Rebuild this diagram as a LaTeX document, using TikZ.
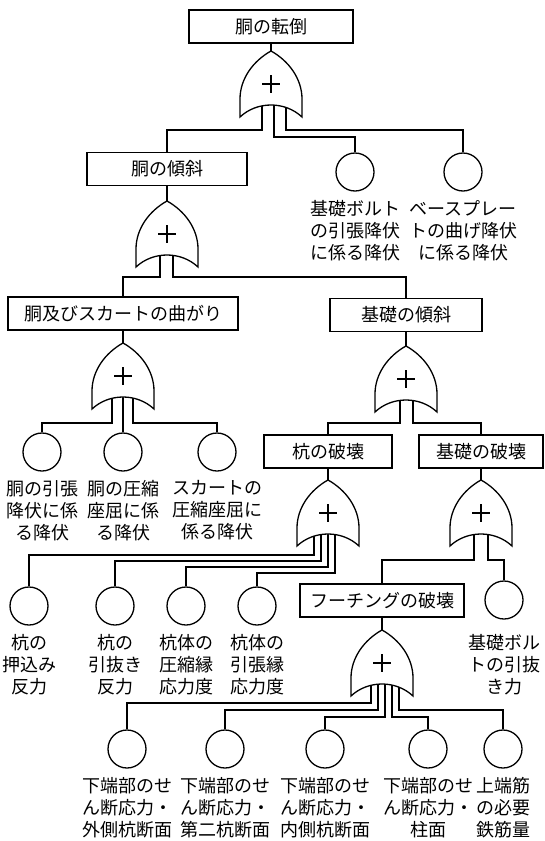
\documentclass[tikz,border=0pt]{standalone}
\usepackage{fontspec}
\setmainfont{Noto Sans CJK JP}
\usetikzlibrary{calc}
\newcommand\orgate[1]{%
  \begin{scope}[shift={(#1)}]
    \draw[fill=white] (0,0) .. controls (18,10) and (31,28) .. (31,48) -- (31,66)
      .. controls (14,50) and (-14,50) .. (-31,66) -- (-31,48)
      .. controls (-31,28) and (-18,10) .. (0,0) -- cycle;
    \draw (-9,33) -- (9,33) (0,24) -- (0,42);
  \end{scope}}
\begin{document}
\begin{tikzpicture}[x=1pt,y=-1pt,line width=1.3pt,
  box/.style={draw,fill=white,minimum height=33pt,inner sep=0pt,font=\fontsize{18}{22}\selectfont},
  ev/.style={draw,circle,minimum size=38pt,inner sep=0pt},
  lbl/.style={align=center,inner sep=0pt,anchor=north,font=\fontsize{18}{22}\selectfont}]
\useasboundingbox (0,0) rectangle (544,841);
% gate apex coordinates
\coordinate (g1) at (271,51);
\coordinate (g2) at (167,201);
\coordinate (g3) at (123,343);
\coordinate (g4) at (406,346);
\coordinate (g5) at (328,480);
\coordinate (g6) at (481,480);
\coordinate (g7) at (382,630);
% boxes
\node[box,minimum width=164pt] (b1) at (271,26.5) {胴の転倒};
\node[box,minimum width=160pt] (b2) at (167,169) {胴の傾斜};
\node[box,minimum width=230pt] (b3) at (123,313.5) {胴及びスカートの曲がり};
\node[box,minimum width=152pt] (b4) at (406,315) {基礎の傾斜};
\node[box,minimum width=128pt] (b5) at (328,451.5) {杭の破壊};
\node[box,minimum width=124pt] (b6) at (481,451.5) {基礎の破壊};
\node[box,minimum width=164pt] (b7) at (382,600.5) {フーチングの破壊};
% events
\node[ev] (c1) at (355,172) {};
\node[ev] (c2) at (463,172) {};
\node[ev] (c3) at (42,452) {};
\node[ev] (c4) at (123,452) {};
\node[ev] (c5) at (217,452) {};
\node[ev] (c6) at (29,606) {};
\node[ev] (c7) at (115,606) {};
\node[ev] (c8) at (186,606) {};
\node[ev] (c9) at (257,606) {};
\node[ev] (c10) at (504,600) {};
\node[ev] (c11) at (127,749) {};
\node[ev] (c12) at (225,749) {};
\node[ev] (c13) at (325,749) {};
\node[ev] (c14) at (428,749) {};
\node[ev] (c15) at (503,749) {};
% labels
\node[lbl] (l1) at (355,200) {基礎ボルト\\の引張降伏\\に係る降伏};
\node[lbl] (l2) at (463,200) {ベースプレー\\トの曲げ降伏\\に係る降伏};
\node[lbl] (l3) at (42,480) {胴の引張\\降伏に係\\る降伏};
\node[lbl] (l4) at (123,480) {胴の圧縮\\座屈に係\\る降伏};
\node[lbl] (l5) at (217,480) {スカートの\\圧縮座屈に\\係る降伏};
\node[lbl] (l6) at (29,634) {杭の\\押込み\\反力};
\node[lbl] (l7) at (115,634) {杭の\\引抜き\\反力};
\node[lbl] (l8) at (186,634) {杭体の\\圧縮縁\\応力度};
\node[lbl] (l9) at (257,634) {杭体の\\引張縁\\応力度};
\node[lbl] (l10) at (504,634) {基礎ボル\\トの引抜\\き力};
\node[lbl] (l11) at (127,777) {下端部のせ\\ん断応力・\\外側杭断面};
\node[lbl] (l12) at (225,777) {下端部のせ\\ん断応力・\\第二杭断面};
\node[lbl] (l13) at (325,777) {下端部のせ\\ん断応力・\\内側杭断面};
\node[lbl] (l14) at (428,777) {下端部のせ\\ん断応力・\\柱面};
\node[lbl] (l15) at (503,777) {上端筋\\の必要\\鉄筋量};
% stems
\draw (b1.south) -- (g1);
\draw (b2.south) -- (g2);
\draw (b3.south) -- (g3);
\draw (b4.south) -- (g4);
\draw (b5.south) -- (g5);
\draw (b6.south) -- (g6);
\draw (b7.south) -- (g7);
% gate outputs
\draw ($(g1)+(-9,54)$) -- ++(0,25) -| (b2.north);
\draw ($(g1)+(3,54)$) -- ++(0,32) -| (c1.north);
\draw ($(g1)+(15,54)$) -- ++(0,25) -| (c2.north);
\draw ($(g2)+(-7,54)$) -- ++(0,22) -| (b3.north);
\draw ($(g2)+(6,54)$) -- ++(0,22) -| (b4.north);
\draw ($(g3)+(-11,54)$) -- ++(0,26) -| (c3.north);
\draw ($(g3)+(0,54)$) -- (c4.north);
\draw ($(g3)+(10,54)$) -- ++(0,26) -| (c5.north);
\draw ($(g4)+(-6,54)$) -- ++(0,23) -| (b5.north);
\draw ($(g4)+(7,54)$) -- ++(0,23) -| (b6.north);
\draw ($(g5)+(-14,54)$) -- ++(0,21) -| (c6.north);
\draw ($(g5)+(-7,54)$) -- ++(0,27) -| (c7.north);
\draw ($(g5)+(0,54)$) -- ++(0,33) -| (c8.north);
\draw ($(g5)+(7,54)$) -- ++(0,39) -| (c9.north);
\draw ($(g6)+(-7,54)$) -- ++(0,26) -| (b7.north);
\draw ($(g6)+(7,54)$) -- ++(0,26) -| (c10.north);
\draw ($(g7)+(-11,54)$) -- ++(0,19) -| (c11.north);
\draw ($(g7)+(-4,54)$) -- ++(0,26) -| (c12.north);
\draw ($(g7)+(3,54)$) -- ++(0,33) -| (c13.north);
\draw ($(g7)+(10,54)$) -- ++(0,33) -| (c14.north);
\draw ($(g7)+(17,54)$) -- ++(0,26) -| (c15.north);
% gates
\orgate{g1}
\orgate{g2}
\orgate{g3}
\orgate{g4}
\orgate{g5}
\orgate{g6}
\orgate{g7}
\end{tikzpicture}
\end{document}
